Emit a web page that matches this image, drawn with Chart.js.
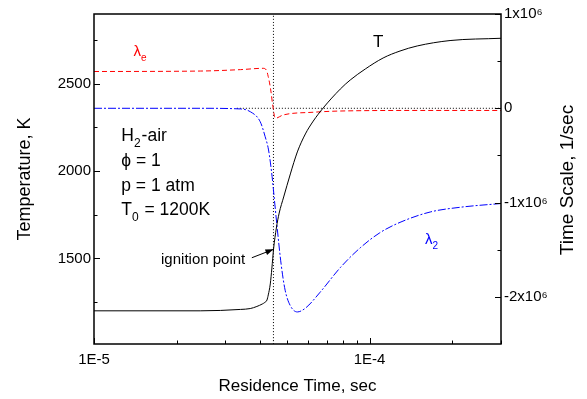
<!DOCTYPE html>
<html>
<head>
<meta charset="utf-8">
<script src="https://cdn.jsdelivr.net/npm/chart.js@4.4.1/dist/chart.umd.min.js"></script>
<style>
html, body { margin: 0; padding: 0; background: #fff; }
</style>
</head>
<body>
<canvas id="grafico" width="587" height="399"></canvas>
<script>
// curva de temperatura (K) x tempo de residencia (s)
var tempoT = [1e-5, 2.43e-5, 3.40e-5, 3.69e-5, 3.90e-5, 4.08e-5, 4.167e-5, 4.244e-5, 4.29e-5, 4.363e-5, 4.422e-5, 4.484e-5, 4.59e-5, 4.70e-5, 4.88e-5, 5.16e-5, 5.47e-5, 5.85e-5, 6.25e-5, 6.79e-5, 7.83e-5, 8.51e-5, 9.65e-5, 1.12e-4, 1.29e-4, 1.49e-4, 1.96e-4, 3e-4];
var temperatura = [1200, 1200, 1208, 1213, 1225, 1239, 1248, 1262, 1291, 1354, 1445, 1554, 1674, 1760, 1852, 1984, 2110, 2213, 2287, 2362, 2470, 2522, 2585, 2648, 2688, 2717, 2748, 2761];

// lambda_e (1/s)
var tempoLe = [1e-5, 2.43e-5, 3.40e-5, 4.11e-5, 4.22e-5, 4.29e-5, 4.38e-5, 4.46e-5, 4.55e-5, 4.86e-5, 6.25e-5, 7.83e-5, 1.53e-4, 3e-4];
var lambdaE = [0.39e6, 0.395e6, 0.41e6, 0.424e6, 0.406e6, 0.335e6, 0.194e6, 0.017e6, -0.106e6, -0.071e6, -0.042e6, -0.029e6, -0.023e6, -0.023e6];

// lambda_2 (1/s)
var tempoL2 = [1e-5, 2.43e-5, 3.40e-5, 3.69e-5, 4.01e-5, 4.18e-5, 4.30e-5, 4.43e-5, 4.48e-5, 4.63e-5, 4.78e-5, 4.94e-5, 5.15e-5, 5.47e-5, 5.85e-5, 6.62e-5, 7.83e-5, 9.25e-5, 1.09e-4, 1.29e-4, 1.66e-4, 2.13e-4, 3e-4];
var lambda2 = [0, 0, -0.007e6, -0.036e6, -0.142e6, -0.301e6, -0.442e6, -0.725e6, -0.866e6, -1.29e6, -1.66e6, -1.93e6, -2.09e6, -2.16e6, -2.12e6, -1.95e6, -1.69e6, -1.48e6, -1.32e6, -1.21e6, -1.10e6, -1.05e6, -1.01e6];

// ponto de ignicao
var tIgnicao = 4.48e-5;
var TIgnicao = 1552;
var setaInicio = [3.74e-5, 1504];
var zeroInicio = 3.3e-5;

// marcas dos eixos
var ticksX = [1e-5, 2e-5, 3e-5, 4e-5, 5e-5, 6e-5, 7e-5, 8e-5, 9e-5, 1e-4, 2e-4, 3e-4];
var rotulosX = ['1E-5', '', '', '', '', '', '', '', '', '1E-4', '', ''];
var ticksT = [1250, 1500, 1750, 2000, 2250, 2500, 2750];
var ticksS = [1e6, 5e5, 0, -5e5, -1e6, -1.5e6, -2e6];

var limX = [1e-5, 3e-4];
var limT = [1010, 2900];
var limS = [-2.5e6, 1e6];

function pontos(xs, ys) {
    return xs.map(function (x, i) { return { x: x, y: ys[i] }; });
}

var fonte = '"Liberation Sans", Arial, sans-serif';

// textos dentro do grafico (coordenadas de dados)
var textos = [
    { eixo: 'yS', x: 1.39e-5, y: 0.60e6, cor: '#ff0000', tam: 15, alinha: 'left', partes: [['λ', 0], ['e', 1]] },
    { eixo: 'yT', x: 1.076e-4, y: 2740, cor: '#000', tam: 17, alinha: 'center', partes: [['T', 0]] },
    { eixo: 'yS', x: 1.59e-4, y: -1.397e6, cor: '#0000ff', tam: 15, alinha: 'left', partes: [['λ', 0], ['2', 1]] },
    { eixo: 'yT', x: 1.256e-5, y: 2200, cor: '#000', tam: 17.5, alinha: 'left', partes: [['H', 0], ['2', 1], ['-air', 0]] },
    { eixo: 'yT', x: 1.256e-5, y: 2057, cor: '#000', tam: 17.5, alinha: 'left', partes: [['ϕ = 1', 0]] },
    { eixo: 'yT', x: 1.256e-5, y: 1914, cor: '#000', tam: 17.5, alinha: 'left', partes: [['p = 1 atm', 0]] },
    { eixo: 'yT', x: 1.256e-5, y: 1777, cor: '#000', tam: 17.5, alinha: 'left', partes: [['T', 0], ['0', 1], [' = 1200K', 0]] },
    { eixo: 'yT', x: 3.54e-5, y: 1491, cor: '#000', tam: 15, alinha: 'right', partes: [['ignition point', 0]] }
];

function escreve(ctx, t, px, py) {
    var sub = Math.round(t.tam * 0.66);
    var larg = 0;
    t.partes.forEach(function (p) {
        ctx.font = (p[1] ? sub : t.tam) + 'px ' + fonte;
        larg += ctx.measureText(p[0]).width;
    });
    var x = px;
    if (t.alinha === 'center') x = px - larg / 2;
    if (t.alinha === 'right') x = px - larg;
    ctx.fillStyle = t.cor;
    ctx.textAlign = 'left';
    ctx.textBaseline = 'middle';
    t.partes.forEach(function (p) {
        ctx.font = (p[1] ? sub : t.tam) + 'px ' + fonte;
        ctx.fillText(p[0], x, p[1] ? py + t.tam * 0.42 : py);
        x += ctx.measureText(p[0]).width + (p[1] ? 1 : 0);
    });
}

// moldura, marcas internas, seta e textos
var moldura = {
    id: 'moldura',
    afterDraw: function (chart) {
        var ctx = chart.ctx, a = chart.chartArea;
        var sx = chart.scales.x, sT = chart.scales.yT, sS = chart.scales.yS;
        ctx.save();
        ctx.strokeStyle = '#000';
        ctx.lineWidth = 1;
        ctx.beginPath();
        ticksX.forEach(function (v, i) {
            var p = Math.round(sx.getPixelForValue(v)) + 0.5;
            var l = rotulosX[i] ? 6 : 3.5;
            ctx.moveTo(p, a.bottom); ctx.lineTo(p, a.bottom - l);
        });
        ticksT.forEach(function (v) {
            var p = Math.round(sT.getPixelForValue(v)) + 0.5;
            var l = v % 500 === 0 ? 6 : 3.5;
            ctx.moveTo(a.left, p); ctx.lineTo(a.left + l, p);
        });
        ticksS.forEach(function (v) {
            var p = Math.round(sS.getPixelForValue(v)) + 0.5;
            var l = v % 1e6 === 0 ? 6 : 3.5;
            ctx.moveTo(a.right, p); ctx.lineTo(a.right - l, p);
        });
        ctx.stroke();
        ctx.lineWidth = 1.5;
        ctx.strokeRect(a.left, a.top, a.right - a.left, a.bottom - a.top);

        // ponta da seta
        var m = chart.getDatasetMeta(5).data;
        var p0 = m[0], p1 = m[1];
        var ang = Math.atan2(p1.y - p0.y, p1.x - p0.x);
        ctx.fillStyle = '#000';
        ctx.beginPath();
        ctx.moveTo(p1.x, p1.y);
        ctx.lineTo(p1.x - 8 * Math.cos(ang) + 3 * Math.sin(ang), p1.y - 8 * Math.sin(ang) - 3 * Math.cos(ang));
        ctx.lineTo(p1.x - 8 * Math.cos(ang) - 3 * Math.sin(ang), p1.y - 8 * Math.sin(ang) + 3 * Math.cos(ang));
        ctx.closePath();
        ctx.fill();

        textos.forEach(function (t) {
            escreve(ctx, t, sx.getPixelForValue(t.x), chart.scales[t.eixo].getPixelForValue(t.y));
        });

        // titulo do eixo direito, lido de baixo para cima
        ctx.translate(568, (a.top + a.bottom) / 2 + 1);
        ctx.rotate(-Math.PI / 2);
        ctx.font = '19px ' + fonte;
        ctx.textAlign = 'center';
        ctx.textBaseline = 'middle';
        ctx.fillStyle = '#000';
        ctx.fillText('Time Scale, 1/sec', 0, 0);
        ctx.restore();
    }
};

var ctx = document.querySelector('#grafico').getContext('2d');
var grafico = new Chart(ctx, {
    type: 'line',
    data: {
        datasets: [
            { data: pontos(tempoT, temperatura), yAxisID: 'yT', borderColor: '#000', borderWidth: 1 },
            { data: pontos(tempoLe, lambdaE), yAxisID: 'yS', borderColor: '#ff0000', borderWidth: 1, borderDash: [5, 3] },
            { data: pontos(tempoL2, lambda2), yAxisID: 'yS', borderColor: '#0000ff', borderWidth: 1, borderDash: [8, 2, 2, 2] },
            { data: [{ x: tIgnicao, y: limT[0] }, { x: tIgnicao, y: limT[1] }], yAxisID: 'yT', borderColor: '#000', borderWidth: 1, borderDash: [1, 2] },
            { data: [{ x: zeroInicio, y: 0 }, { x: limX[1], y: 0 }], yAxisID: 'yS', borderColor: '#000', borderWidth: 1, borderDash: [1, 2] },
            { data: [{ x: setaInicio[0], y: setaInicio[1] }, { x: tIgnicao, y: TIgnicao }], yAxisID: 'yT', borderColor: '#000', borderWidth: 1 }
        ]
    },
    options: {
        responsive: false,
        animation: false,
        devicePixelRatio: 1,
        layout: { padding: { top: 14, left: 0, right: 0, bottom: 0 } },
        elements: {
            point: { radius: 0 },
            line: { cubicInterpolationMode: 'monotone', fill: false }
        },
        plugins: { legend: { display: false }, tooltip: { enabled: false } },
        scales: {
            x: {
                type: 'logarithmic',
                min: limX[0], max: limX[1],
                grid: { display: false, drawTicks: false, tickLength: 0 },
                border: { display: false },
                afterBuildTicks: function (s) { s.ticks = ticksX.map(function (v) { return { value: v }; }); },
                afterFit: function (s) { s.height = 55; },
                ticks: {
                    autoSkip: false, maxRotation: 0, padding: 7,
                    color: '#000', font: { family: fonte, size: 15 },
                    callback: function (v, i) { return rotulosX[i]; }
                },
                title: { display: true, text: 'Residence Time, sec', color: '#000', font: { family: fonte, size: 17 }, padding: { top: 0, bottom: 2 } }
            },
            yT: {
                type: 'linear', position: 'left',
                min: limT[0], max: limT[1],
                grid: { display: false, drawTicks: false, tickLength: 0 },
                border: { display: false },
                afterBuildTicks: function (s) { s.ticks = ticksT.map(function (v) { return { value: v }; }); },
                afterFit: function (s) { s.width = 94; },
                ticks: {
                    padding: 3, color: '#000', font: { family: fonte, size: 15 },
                    callback: function (v) { return v % 500 === 0 ? String(v) : ''; }
                },
                title: { display: true, text: 'Temperature, K', color: '#000', font: { family: fonte, size: 18 }, padding: { top: 14, bottom: 0 } }
            },
            yS: {
                type: 'linear', position: 'right',
                min: limS[0], max: limS[1],
                grid: { display: false, drawTicks: false, tickLength: 0 },
                border: { display: false },
                afterBuildTicks: function (s) { s.ticks = ticksS.map(function (v) { return { value: v }; }); },
                afterFit: function (s) { s.width = 86; },
                ticks: {
                    padding: 3, color: '#000', font: { family: fonte, size: 15 },
                    callback: function (v) { return v === 0 ? '0' : (v % 1e6 === 0 ? (v / 1e6) + 'x10⁶' : ''); }
                },
                title: { display: false }
            }
        }
    },
    plugins: [moldura]
});
</script>
</body>
</html>
